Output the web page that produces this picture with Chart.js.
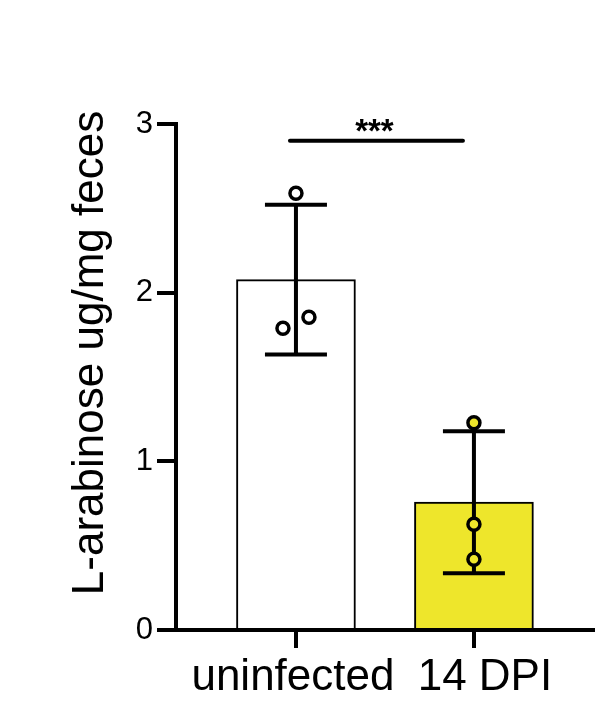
<!DOCTYPE html>
<html><head><meta charset="utf-8">
<script src="https://cdn.jsdelivr.net/npm/chart.js@4.4.1/dist/chart.umd.min.js"></script>
<style>html,body{margin:0;padding:0;background:#fff;} canvas{display:block;}</style>
</head><body>
<canvas id="c" width="607" height="716"></canvas>
<script>
// ---- data ----
const categories = ['uninfected', '14 DPI'];
const uninfectedPoints = [2.589, 1.789, 1.854];
const dpi14Points = [1.229, 0.627, 0.419];
const barMeans = [2.077, 0.758];
const barSD = [0.444, 0.421];
const yTicks = [0, 1, 2, 3];
const yAxisTitle = 'L-arabinose ug/mg feces';
const sigFrom = 0, sigTo = 1, sigY = 2.9, sigLabel = '***';

// ---- styles ----
const FONT = "Arial, 'Liberation Sans', sans-serif";
const barFill = ['#ffffff', '#EEE62B'];
const JITTER = 0.073;

const groups = [uninfectedPoints, dpi14Points];
const scatterData = [], scatterFill = [];
groups.forEach((vals, g) => {
  const sorted = vals.map((v, i) => ({v, i})).sort((a, b) => a.v - b.v);
  const off = new Array(vals.length).fill(0);
  for (let k = 0; k < sorted.length - 1; k++) {
    if (sorted[k + 1].v - sorted[k].v < 0.1) { off[sorted[k].i] = -JITTER; off[sorted[k + 1].i] = JITTER; k++; }
  }
  vals.forEach((v, i) => { scatterData.push({x: g + off[i], y: v}); scatterFill.push(barFill[g]); });
});
const barData = barMeans.map((m, i) => ({x: i, y: m}));

const overlay = {
  id: 'overlay',
  afterDatasetDraw(chart, args) {
    if (args.meta.type !== 'bar') return;
    const {ctx} = chart, xs = chart.scales.x, ys = chart.scales.y;
    ctx.save();
    ctx.strokeStyle = '#000'; ctx.lineWidth = 4; ctx.lineCap = 'butt';
    barMeans.forEach((m, i) => {
      const x = xs.getPixelForValue(i);
      const yt = ys.getPixelForValue(m + barSD[i]);
      const yb = ys.getPixelForValue(m - barSD[i]);
      ctx.beginPath();
      ctx.moveTo(x, yt); ctx.lineTo(x, yb);
      ctx.moveTo(x - 31, yt); ctx.lineTo(x + 31, yt);
      ctx.moveTo(x - 31, yb); ctx.lineTo(x + 31, yb);
      ctx.stroke();
    });
    ctx.restore();
  },
  afterDraw(chart) {
    const {ctx} = chart, xs = chart.scales.x, ys = chart.scales.y;
    ctx.save();
    // significance bar
    const y = ys.getPixelForValue(sigY);
    const x1 = xs.getPixelForValue(sigFrom) - 6, x2 = xs.getPixelForValue(sigTo) - 11;
    ctx.strokeStyle = '#000'; ctx.lineWidth = 4; ctx.lineCap = 'round';
    ctx.beginPath(); ctx.moveTo(x1, y); ctx.lineTo(x2, y); ctx.stroke();
    ctx.fillStyle = '#000';
    ctx.font = 'bold 33px ' + FONT;
    ctx.textAlign = 'center'; ctx.textBaseline = 'alphabetic';
    ctx.fillText(sigLabel, (x1 + x2) / 2 - 2, y + 1);
    // x category labels
    ctx.font = '44px ' + FONT;
    const shift = [-3, 11];
    categories.forEach((c, i) => {
      ctx.fillText(c, xs.getPixelForValue(i) + shift[i], 690);
    });
    // y title
    ctx.translate(103, 353);
    ctx.rotate(-Math.PI / 2);
    ctx.fillText(yAxisTitle, 0, 0);
    ctx.restore();
  }
};

new Chart(document.getElementById('c'), {
  type: 'bar',
  data: {
    datasets: [
      { type: 'scatter', order: 0, data: scatterData, pointRadius: 6, pointHoverRadius: 6,
        pointBorderWidth: 3.5, pointBorderColor: '#000', pointBackgroundColor: scatterFill },
      { type: 'bar', order: 1, data: barData, backgroundColor: barFill, borderColor: '#000',
        borderWidth: 2, barThickness: 119, borderSkipped: 'start' }
    ]
  },
  options: {
    responsive: false, animation: false, events: [],
    layout: { padding: { top: 124, right: 14, left: 0, bottom: 0 } },
    plugins: { legend: { display: false }, tooltip: { enabled: false } },
    scales: {
      x: {
        type: 'linear', min: -0.674, max: 1.669, bounds: 'data', z: 1, offset: false,
        afterBuildTicks: s => { s.ticks = categories.map((c, i) => ({ value: i })); },
        afterFit: s => { s.height = 86; },
        ticks: { display: false },
        grid: { offset: false, drawOnChartArea: false, tickLength: 18, lineWidth: 4, color: '#000' },
        border: { display: true, width: 4, color: '#000' }
      },
      y: {
        type: 'linear', min: 0, max: 3, z: 1,
        afterBuildTicks: s => { s.ticks = yTicks.map(v => ({ value: v })); },
        afterFit: s => { s.width = 176; },
        ticks: { font: { family: FONT, size: 31 }, color: '#000', padding: 4 },
        grid: { offset: false, drawOnChartArea: false, tickLength: 19, lineWidth: 4, color: '#000' },
        border: { display: true, width: 4, color: '#000' }
      }
    }
  },
  plugins: [overlay]
});
</script>
</body></html>
